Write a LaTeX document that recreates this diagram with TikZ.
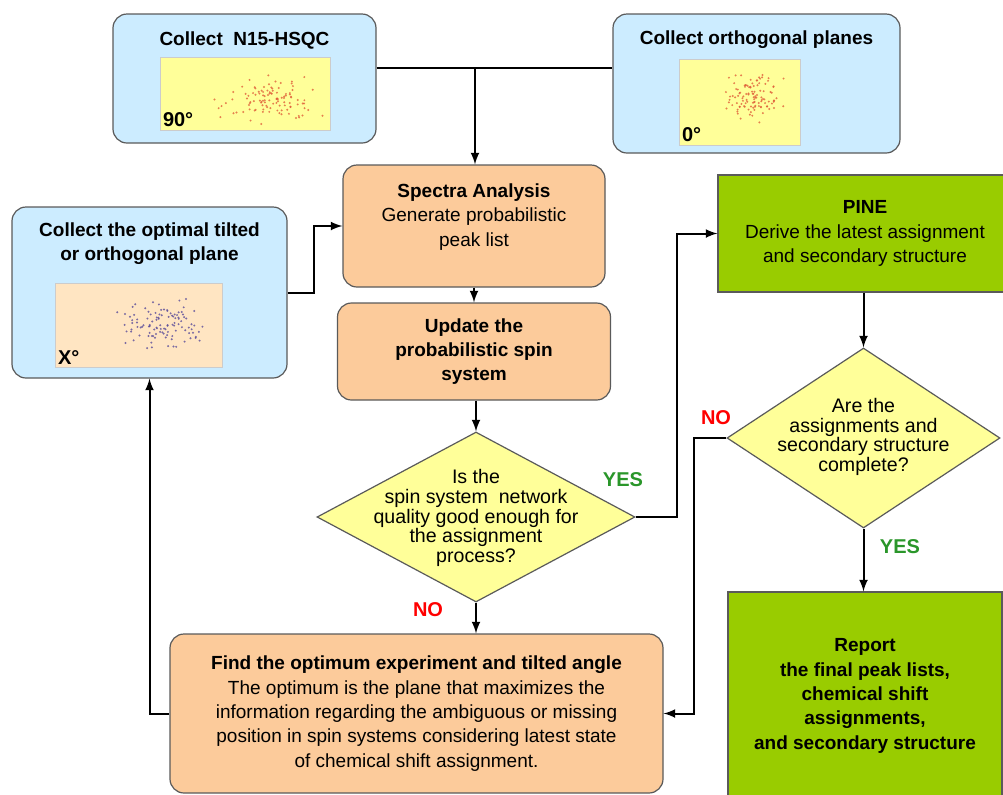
\documentclass[tikz,border=0pt]{standalone}
\usepackage{fontspec}
\setmainfont{Liberation Sans}
\usetikzlibrary{calc,shapes.geometric,arrows.meta}

\definecolor{boxblue}{HTML}{CCECFF}
\definecolor{boxorange}{HTML}{FCCB9B}
\definecolor{boxgreen}{HTML}{99CC00}
\definecolor{decyellow}{HTML}{FFFF99}
\definecolor{imgyellow}{HTML}{FFFF99}
\definecolor{imgpeach}{HTML}{FFE5C2}
\definecolor{yesgreen}{HTML}{2A962A}
\definecolor{nored}{HTML}{FF0000}
\definecolor{linegray}{HTML}{5A5A5A}
\definecolor{dotred}{HTML}{E0603A}
\definecolor{dotblue}{HTML}{5A4C9A}

\begin{document}
\begin{tikzpicture}[x=0.5pt,y=-0.5pt,
  collect/.style={draw=linegray,fill=boxblue,rounded corners=7pt,line width=0.6pt,inner sep=0pt},
  process/.style={draw=linegray,fill=boxorange,rounded corners=7pt,line width=0.6pt,inner sep=0pt,align=center,font=\fontsize{9.5}{12.2}\selectfont},
  result/.style={draw=linegray,fill=boxgreen,line width=0.6pt,inner sep=0pt,align=center,font=\fontsize{9.5}{12.2}\selectfont},
  decision/.style={diamond,draw=linegray,fill=decyellow,line width=0.6pt,inner sep=0pt},
  question/.style={align=center,inner sep=0pt,font=\fontsize{9.8}{9.8}\selectfont},
  title/.style={align=center,inner sep=0pt,font=\bfseries\fontsize{9.5}{12}\selectfont},
  plot/.style={draw=black!20,line width=0.4pt,inner sep=0pt},
  angle/.style={inner sep=1.5pt,font=\bfseries\fontsize{10}{12}\selectfont},
  yes/.style={text=yesgreen,font=\bfseries\fontsize{10}{12}\selectfont},
  no/.style={text=nored,font=\bfseries\fontsize{10}{12}\selectfont},
  flow/.style={line width=1pt}]
  \useasboundingbox (0,0) rectangle (1003,794);

  %% Collecting the planes
  \node[collect,minimum width=131.5pt,minimum height=64.5pt] (N15) at (244.5,78.5) {};
  \node[title] (N15T) at (244.5,40) {Collect\ \ N15-HSQC};
  \node[plot,fill=imgyellow,minimum width=85pt,minimum height=36.5pt] (IMG90) at (245,93.5) {};
  \node[angle,anchor=south west] (DEG90) at (IMG90.south west) {90°};

  \node[collect,minimum width=143.5pt,minimum height=69.5pt] (ORTHO) at (756.5,83.5) {};
  \node[title] (ORTHOT) at (756.5,40) {Collect orthogonal planes};
  \node[plot,fill=imgyellow,minimum width=60.5pt,minimum height=43pt] (IMG0) at (739.5,102) {};
  \node[angle,anchor=south west] (DEG0) at (IMG0.south west) {0°};

  \node[collect,minimum width=137.5pt,minimum height=85.5pt] (TILTED) at (149.5,292.5) {};
  \node[title] (TILTEDT) at (149.5,244) {Collect the optimal tilted\\or orthogonal plane};
  \node[plot,fill=imgpeach,minimum width=83.5pt,minimum height=42pt] (IMGX) at (138.5,325) {};
  \node[angle,anchor=south west] (DEGX) at (IMGX.south west) {X°};

  %% Peaks in the small spectra
  \pgfmathsetseed{11}
  \foreach \img/\ox/\oy/\sx/\sy/\col in {IMG90/22/7/62/30/dotred,IMG0/13/-3/40/34/dotred,IMGX/23/0/58/32/dotblue}
  {
    \foreach \k in {1,...,110}
    {
      \pgfmathsetmacro{\dx}{\ox+\sx*(rand+rand+rand)/3}
      \pgfmathsetmacro{\dy}{\oy+\sy*(rand+rand+rand)/3}
      \fill[\col,opacity=0.8] ($(\img)+(\dx,\dy)$) circle[radius=0.55pt];
    }
  }

  %% Processing steps
  \node[process,minimum width=131pt,minimum height=61pt] (SPECTRA) at (474,226) {};
  \node[align=center,inner sep=0pt,font=\fontsize{9.5}{12.2}\selectfont] (SPECTRAT) at (474,217)
    {\textbf{Spectra Analysis}\\Generate probabilistic\\peak list};
  \node[process,font=\bfseries\fontsize{9.5}{12.2}\selectfont,minimum width=136.5pt,minimum height=48.5pt] (UPDATE) at (474,351.5)
    {Update the\\probabilistic spin\\system};
  \node[decision,minimum width=159pt,minimum height=85pt] (CHECK) at (476,517) {};
  \node[question] (CHECKT) at (476,518)
    {Is the\\spin system\ \ network\\quality good enough for\\the assignment\\process?};
  \node[process,minimum width=246.5pt,minimum height=79.5pt] (FIND) at (416.5,713.5)
    {\textbf{Find the optimum experiment and tilted angle}\\The optimum is the plane that maximizes the\\information regarding the ambiguous or missing\\position in spin systems considering latest state\\of chemical shift assignment.};

  %% PINE and the final report
  \node[result,minimum width=147pt,minimum height=58.5pt] (PINE) at (865,233.5)
    {\textbf{PINE}\\Derive the latest assignment\\and secondary structure};
  \node[decision,minimum width=136.5pt,minimum height=90pt] (DONE) at (863.5,438) {};
  \node[question] (DONET) at (863.5,437)
    {Are the\\assignments and\\secondary structure\\complete?};
  \node[result,font=\bfseries\fontsize{9.5}{12.2}\selectfont,minimum width=137pt,minimum height=104pt] (REPORT) at (865,696)
    {Report\\the final peak lists,\\chemical shift\\assignments,\\and secondary structure};

  %% Answers
  \node[yes] (YES1) at (623,480) {YES};
  \node[no] (NO1) at (428,610) {NO};
  \node[no] (NO2) at (716,418) {NO};
  \node[yes] (YES2) at (900,547) {YES};

  %% Connectors
  \coordinate (JOIN) at (475,68);
  \draw[flow] (N15.east |- JOIN) -- (ORTHO.west |- JOIN);
  \draw[flow,-latex] (JOIN) -- (JOIN |- SPECTRA.north);
  \draw[flow,-latex] (SPECTRA.south) -- (UPDATE.north);
  \draw[flow,-latex] (UPDATE.south -| CHECK.north) -- (CHECK.north);
  \draw[flow,-latex] (CHECK.east) -| ($(PINE.west)+(-40,0)$) -- (PINE.west);
  \draw[flow,-latex] (CHECK.south) -- (CHECK.south |- FIND.north);
  \draw[flow,-latex] (FIND.west) -| (TILTED.south);
  \draw[flow,-latex] (TILTED.east) -- ++(26,0) |- (SPECTRA.west);
  \draw[flow,-latex] (PINE.south -| DONE.north) -- (DONE.north);
  \draw[flow,-latex] (DONE.west) -- ++(-32,0) |- (FIND.east);
  \draw[flow,-latex] (DONE.south) -- (DONE.south |- REPORT.north);
\end{tikzpicture}
\end{document}
